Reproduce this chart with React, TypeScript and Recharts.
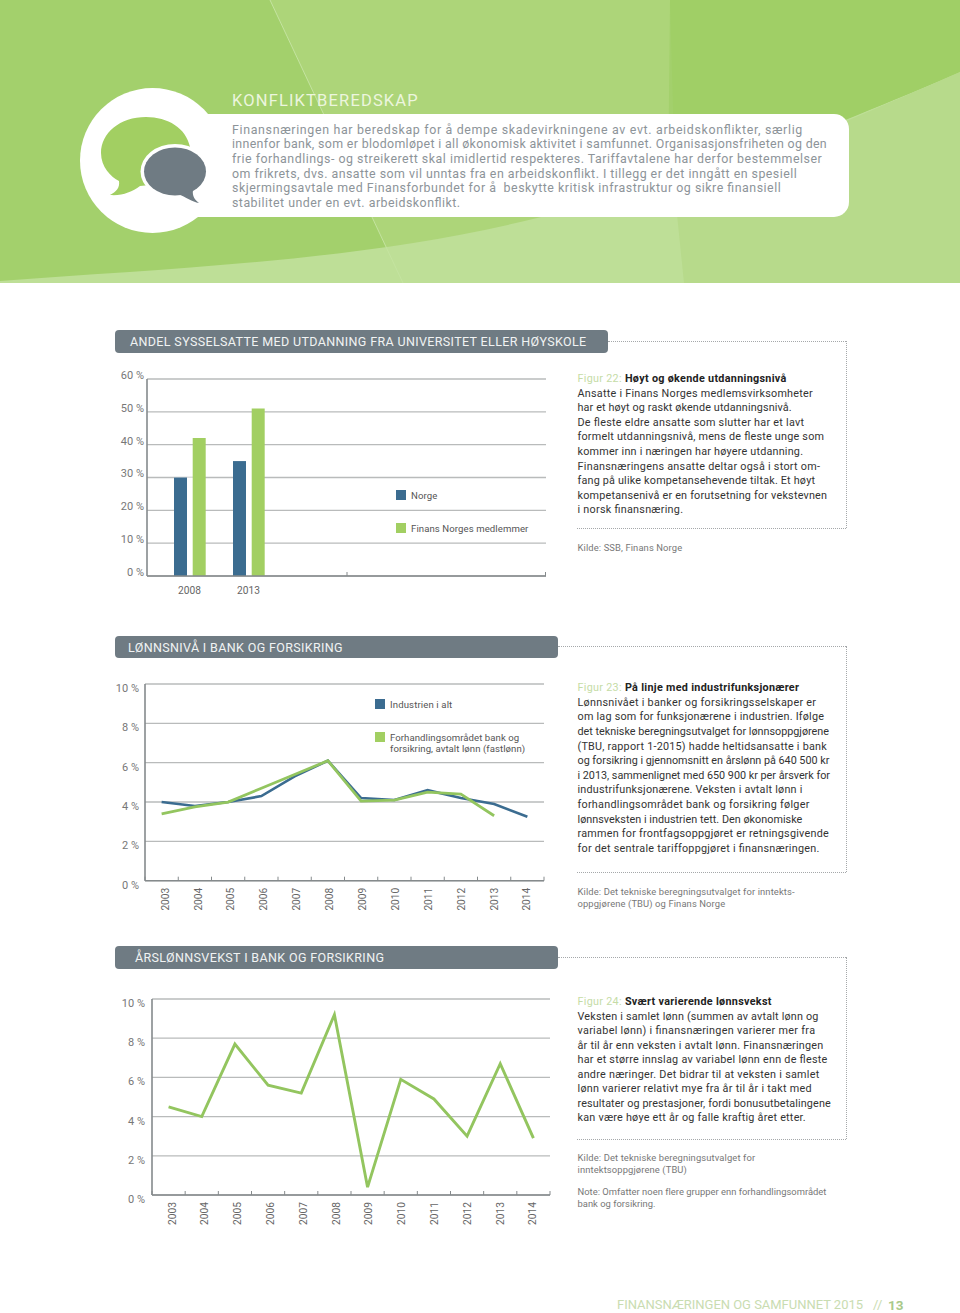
import React from 'react';
import { BarChart, Bar, LineChart, Line, XAxis, YAxis, CartesianGrid } from 'recharts';

const barYears = ['2008', '2013'];
const norge = [30, 35];
const finansNorge = [42, 51];
const barTicks = [0, 10, 20, 30, 40, 50, 60];

const years = ['2003', '2004', '2005', '2006', '2007', '2008', '2009', '2010', '2011', '2012', '2013', '2014'];
const industrien = [4.0, 3.8, 4.0, 4.3, 5.3, 6.1, 4.2, 4.1, 4.6, 4.2, 3.9, 3.25];
const forhandling = [3.4, 3.75, 4.0, 4.7, 5.4, 6.1, 4.05, 4.1, 4.5, 4.4, 3.3, null];
const lonnsvekst = [4.5, 4.0, 7.7, 5.6, 5.2, 9.2, 0.4, 5.9, 4.9, 3.0, 6.7, 2.9];
const lineTicks = [0, 2, 4, 6, 8, 10];

const introLines = [
  'Finansnæringen har beredskap for å dempe skadevirkningene av evt. arbeidskonflikter, særlig',
  'innenfor bank, som er blodomløpet i all økonomisk aktivitet i samfunnet. Organisasjonsfriheten og den',
  'frie forhandlings- og streikerett skal imidlertid respekteres. Tariffavtalene har derfor bestemmelser',
  'om frikrets, dvs. ansatte som vil unntas fra en arbeidskonflikt. I tillegg er det inngått en spesiell',
  'skjermingsavtale med Finansforbundet for å  beskytte kritisk infrastruktur og sikre finansiell',
  'stabilitet under en evt. arbeidskonflikt.',
];
const fig22Lines = [
  'Ansatte i Finans Norges medlemsvirksomheter',
  'har et høyt og raskt økende utdanningsnivå.',
  'De fleste eldre ansatte som slutter har et lavt',
  'formelt utdanningsnivå, mens de fleste unge som',
  'kommer inn i næringen har høyere utdanning.',
  'Finansnæringens ansatte deltar også i stort om-',
  'fang på ulike kompetansehevende tiltak. Et høyt',
  'kompetansenivå er en forutsetning for vekstevnen',
  'i norsk finansnæring.',
];
const fig23Lines = [
  'Lønnsnivået i banker og forsikringsselskaper er',
  'om lag som for funksjonærene i industrien. Ifølge',
  'det tekniske beregningsutvalget for lønnsoppgjørene',
  '(TBU, rapport 1-2015) hadde heltidsansatte i bank',
  'og forsikring i gjennomsnitt en årslønn på 640 500 kr',
  'i 2013, sammenlignet med 650 900 kr per årsverk for',
  'industrifunksjonærene. Veksten i avtalt lønn i',
  'forhandlingsområdet bank og forsikring følger',
  'lønnsveksten i industrien tett. Den økonomiske',
  'rammen for frontfagsoppgjøret er retningsgivende',
  'for det sentrale tariffoppgjøret i finansnæringen.',
];
const fig24Lines = [
  'Veksten i samlet lønn (summen av avtalt lønn og',
  'variabel lønn) i finansnæringen varierer mer fra',
  'år til år enn veksten i avtalt lønn. Finansnæringen',
  'har et større innslag av variabel lønn enn de fleste',
  'andre næringer. Det bidrar til at veksten i samlet',
  'lønn varierer relativt mye fra år til år i takt med',
  'resultater og prestasjoner, fordi bonusutbetalingene',
  'kan være høye ett år og falle kraftig året etter.',
];

const BLUE = '#3b6c90';
const GREEN = '#a2cf62';
const LINE_GREEN = '#93c55f';
const GRID = '#b9bbbb';
const AXIS = '#858a8c';
const FONT = 'Roboto, sans-serif';

const barData = barYears.map((year, i) => ({ year, norge: norge[i], finans: finansNorge[i] }));
const wageData = years.map((year, i) => ({ year, industrien: industrien[i], forhandling: forhandling[i] }));
const growthData = years.map((year, i) => ({ year, vekst: lonnsvekst[i] }));

const percent = (v: number) => `${v} %`;
const yTick = (dy: number) => ({ fontSize: 11, fill: '#777', fontFamily: FONT, dy });

// one text line per row; `ends` holds the right edge of each row where the print justified it
function Lines({ lines, x, y, size, color, spacing = 0, height = 14.6, ends }: any) {
  return (
    <svg width={960} height={1313} style={{ position: 'absolute', left: 0, top: 0, pointerEvents: 'none' }}>
      {lines.map((line: string, i: number) => (
        <text
          key={i}
          x={x}
          y={y + i * height + size * 0.36}
          fontSize={size}
          fill={color}
          fontFamily={FONT}
          letterSpacing={ends ? undefined : spacing}
          textLength={ends ? ends[i] - x : undefined}
          lengthAdjust="spacing"
          style={{ whiteSpace: 'pre' }}
        >
          {line}
        </text>
      ))}
    </svg>
  );
}

function Banner({ title, y, width, textX }: any) {
  return (
    <div
      style={{
        position: 'absolute',
        left: 115,
        top: y,
        width,
        height: 22.5,
        background: '#6f7b83',
        borderRadius: 4,
        color: '#f1f3f3',
        fontFamily: FONT,
        fontSize: 12.5,
        letterSpacing: 0.36,
        lineHeight: '23px',
        whiteSpace: 'pre',
        paddingLeft: textX - 115,
        boxSizing: 'border-box',
      }}
    >
      {title}
    </div>
  );
}

function Swatch({ x, y, color }: any) {
  return <div style={{ position: 'absolute', left: x, top: y, width: 10, height: 10, background: color }} />;
}

function FigureTitle({ label, title, y }: any) {
  return (
    <div style={{ position: 'absolute', left: 577.5, top: y - 9.5, lineHeight: '20px', fontSize: 10.8, fontFamily: FONT, letterSpacing: 0.3, whiteSpace: 'pre' }}>
      <span style={{ color: '#c5dca6' }}>{label} </span>
      <span style={{ color: '#222', fontWeight: 700 }}>{title}</span>
    </div>
  );
}

function DottedFrame({ top, bottom, from }: any) {
  const border = '1px dotted #a5a8aa';
  return (
    <>
      <div style={{ position: 'absolute', left: from, top, width: 846 - from, borderTop: border }} />
      <div style={{ position: 'absolute', left: 846, top, height: bottom - top, borderLeft: border }} />
      <div style={{ position: 'absolute', left: 577, top: bottom, width: 269, borderTop: border }} />
    </>
  );
}

// blue bar carries the white gap that cuts the grid lines between the pair
function BlueBar({ x, y, width, height, fill }: any) {
  return (
    <g>
      <rect x={x} y={y} width={width + 6} height={height} fill="#fff" />
      <rect x={x} y={y} width={width} height={height} fill={fill} />
    </g>
  );
}

function Stub({ x, base }: any) {
  return <line x1={x} x2={x} y1={base - 4} y2={base} stroke={AXIS} strokeWidth={1} />;
}

// ticks of the bar chart sit at the axis middle and end, not at the years
function BarYearTick({ x, y, index, payload }: any) {
  const base = y - 10;
  return (
    <g>
      {index === 0 && <Stub x={x + 157.5} base={base} />}
      {index === 0 && <Stub x={x + 356} base={base} />}
      <text x={x} y={y} dy="0.75em" fontSize={10.2} fill="#666" fontFamily={FONT} textAnchor="middle">
        {payload.value}
      </text>
    </g>
  );
}

// year labels run a little tighter than the points in the print; tick marks sit on the band edges
function YearTick({ x, y, index, payload, visibleTicksCount }: any) {
  const lx = x + 7 - index * 0.36;
  const half = payload.offset || 16.6;
  const base = y - 7;
  return (
    <g>
      <Stub x={x - half} base={base} />
      {index === visibleTicksCount - 1 && <Stub x={x + half} base={base} />}
      <text x={lx} y={y} fontSize={10.2} fill="#666" fontFamily={FONT} textAnchor="end" transform={`rotate(-90 ${lx} ${y})`}>
        {payload.value}
      </text>
    </g>
  );
}

function Header() {
  return (
    <svg width={960} height={283} style={{ position: 'absolute', left: 0, top: 0 }}>
      <rect width={960} height={283} fill="#a3d06c" />
      <polygon points="270,0 670,0 667,283 403,283" fill="#add579" />
      <path d="M0,281 C170,268 360,262 537,218 C680,182 790,145 960,72 L960,283 L0,283 Z" fill="#bedf97" />
      <path d="M670,0 L960,0 L960,72 C790,145 720,168 675,180 Z" fill="#a0cf66" />
      <path d="M675,195 C790,145 880,107 960,72 L960,283 L684,283 Z" fill="#b7da8b" />
      <polyline points="270,0 403,283" fill="none" stroke="#c4e3a0" strokeWidth={1} />
      <circle cx={152.5} cy={160.5} r={72.5} fill="#fff" />
      <rect x={150} y={114} width={699} height={103} rx={15} fill="#fff" />
      <path
        d="M190,147 C186,128 168,117 146,117 C120,117 101,133 101,153 C101,167 111,177 119,181 C120,188 116,192 110,195 C122,196 132,192 140,186 L150,185 Z"
        fill={GREEN}
      />
      <ellipse cx={175} cy={171.5} rx={34.5} ry={27.5} fill="#fff" />
      <ellipse cx={175} cy={171.5} rx={31} ry={24} fill="#6f7b83" />
      <path d="M178,194 C186,197 192,202 199,203 C195,200 192,196 193,190 Z" fill="#6f7b83" />
    </svg>
  );
}

export default function App() {
  return (
    <div style={{ position: 'absolute', left: 0, top: 0, width: 960, height: 1313, overflow: 'hidden', background: '#fff' }}>
      <style>{'html,body{margin:0;padding:0;background:#fff}'}</style>
      <Header />
      <Lines lines={['KONFLIKTBEREDSKAP']} x={232} y={100.5} size={16.5} color="#ecf5de" spacing={1.15} />
      <Lines lines={introLines} x={232} y={129.3} size={12.4} color="#8d9499" ends={[802.3, 826.7, 821.7, 796.7, 780.7, 460]} />

      <DottedFrame top={341} bottom={528} from={608} />
      <DottedFrame top={646} bottom={872} from={558} />
      <DottedFrame top={957} bottom={1139} from={558} />

      <Banner title="ANDEL SYSSELSATTE MED UTDANNING FRA UNIVERSITET ELLER HØYSKOLE" y={330} width={493} textX={130} />
      <Banner title="LØNNSNIVÅ I BANK OG FORSIKRING" y={635.5} width={443} textX={128} />
      <Banner title="ÅRSLØNNSVEKST I BANK OG FORSIKRING" y={946} width={443} textX={135} />

      <div style={{ position: 'absolute', left: 100, top: 360 }}>
        <BarChart width={470} height={240} data={barData} margin={{ top: 19, right: 24, bottom: 0, left: 0 }} barSize={13} barGap={5.7}>
          <CartesianGrid vertical={false} stroke={GRID} strokeWidth={1.3} />
          <XAxis
            dataKey="year"
            padding={{ left: 13, right: 268 }}
            height={24}
            stroke={AXIS}
            strokeWidth={1.6}
            tickLine={false}
            tickSize={0}
            tickMargin={10}
            interval={0}
            tick={BarYearTick}
          />
          <YAxis
            width={47}
            domain={[0, 60]}
            ticks={barTicks}
            tickFormatter={percent}
            stroke={AXIS}
            strokeWidth={1.6}
            tickLine={false}
            tickSize={0}
            tickMargin={3}
            tick={yTick(-4)}
          />
          <Bar dataKey="norge" fill={BLUE} shape={BlueBar} isAnimationActive={false} />
          <Bar dataKey="finans" fill={GREEN} isAnimationActive={false} />
        </BarChart>
      </div>
      <Swatch x={395.5} y={490} color={BLUE} />
      <Swatch x={395.5} y={522.5} color={GREEN} />
      <Lines lines={['Norge']} x={411} y={495.5} size={9.6} color="#555" spacing={0.12} />
      <Lines lines={['Finans Norges medlemmer']} x={411} y={528.5} size={9.6} color="#555" spacing={0.08} />

      <div style={{ position: 'absolute', left: 100, top: 670 }}>
        <LineChart width={470} height={260} data={wageData} margin={{ top: 14, right: 26, bottom: 0, left: 0 }}>
          <CartesianGrid vertical={false} stroke={GRID} strokeWidth={1.3} />
          <XAxis
            dataKey="year"
            scale="band"
            height={49.3}
            stroke={AXIS}
            strokeWidth={1.6}
            tickLine={false}
            tickSize={0}
            tickMargin={7}
            interval={0}
            tick={YearTick}
          />
          <YAxis
            width={45}
            domain={[0, 10]}
            ticks={lineTicks}
            tickFormatter={percent}
            stroke={AXIS}
            strokeWidth={1.6}
            tickLine={false}
            tickSize={0}
            tickMargin={6}
            tick={yTick(4)}
          />
          <Line dataKey="industrien" stroke={BLUE} strokeWidth={2.6} dot={false} isAnimationActive={false} />
          <Line dataKey="forhandling" stroke={LINE_GREEN} strokeWidth={2.8} dot={false} isAnimationActive={false} />
        </LineChart>
      </div>
      <Swatch x={375} y={699} color={BLUE} />
      <Swatch x={375} y={732} color={GREEN} />
      <Lines lines={['Industrien i alt']} x={390} y={704.5} size={9.6} color="#555" spacing={0.12} />
      <Lines lines={['Forhandlingsområdet bank og', 'forsikring, avtalt lønn (fastlønn)']} x={390} y={737.5} size={9.6} color="#555" spacing={0.06} height={11.5} />

      <div style={{ position: 'absolute', left: 100, top: 985 }}>
        <LineChart width={470} height={260} data={growthData} margin={{ top: 14, right: 20, bottom: 0, left: 0 }}>
          <CartesianGrid vertical={false} stroke={GRID} strokeWidth={1.3} />
          <XAxis
            dataKey="year"
            scale="band"
            height={50}
            stroke={AXIS}
            strokeWidth={1.6}
            tickLine={false}
            tickSize={0}
            tickMargin={7}
            interval={0}
            tick={YearTick}
          />
          <YAxis
            width={52}
            domain={[0, 10]}
            ticks={lineTicks}
            tickFormatter={percent}
            stroke={AXIS}
            strokeWidth={1.6}
            tickLine={false}
            tickSize={0}
            tickMargin={7}
            tick={yTick(4)}
          />
          <Line dataKey="vekst" stroke={LINE_GREEN} strokeWidth={2.9} dot={false} isAnimationActive={false} />
        </LineChart>
      </div>

      <FigureTitle label="Figur 22:" title="Høyt og økende utdanningsnivå" y={378} />
      <Lines lines={fig22Lines} x={577.5} y={392.7} size={10.8} color="#333" ends={[812.7, 791.7, 804, 824, 803, 820, 815, 827, 683]} />
      <Lines lines={['Kilde: SSB, Finans Norge']} x={577.5} y={548} size={9.4} color="#777" spacing={0.12} />

      <FigureTitle label="Figur 23:" title="På linje med industrifunksjonærer" y={687} />
      <Lines lines={fig23Lines} x={577.5} y={702} size={10.8} color="#333" ends={[816, 824, 829, 826.7, 829.3, 830, 802.3, 809.3, 802.3, 828.7, 819.3]} />
      <Lines lines={['Kilde: Det tekniske beregningsutvalget for inntekts-', 'oppgjørene (TBU) og Finans Norge']} x={577.5} y={892} size={9.4} color="#777" spacing={0.12} height={12} />

      <FigureTitle label="Figur 24:" title="Svært varierende lønnsvekst" y={1001} />
      <Lines lines={fig24Lines} x={577.5} y={1016} size={10.8} color="#333" height={14.45} ends={[818.3, 815, 823.3, 827.3, 819.3, 811.7, 830.7, 805.7]} />
      <Lines lines={['Kilde: Det tekniske beregningsutvalget for', 'inntektsoppgjørene (TBU)']} x={577.5} y={1158} size={9.4} color="#777" spacing={0.12} height={12} />
      <Lines lines={['Note: Omfatter noen flere grupper enn forhandlingsområdet', 'bank og forsikring.']} x={577.5} y={1192} size={9.4} color="#777" spacing={0.02} height={12} />

      <Lines lines={['FINANSNÆRINGEN OG SAMFUNNET 2015']} x={617} y={1304.5} size={13} color="#c9dcb1" ends={[863]} />
      <Lines lines={['//']} x={873} y={1304.5} size={13} color="#c9dcb1" />
      <div style={{ position: 'absolute', left: 888, top: 1294.5, lineHeight: '20px', fontSize: 13.5, fontWeight: 700, color: '#a9c98a', fontFamily: FONT }}>13</div>
    </div>
  );
}
